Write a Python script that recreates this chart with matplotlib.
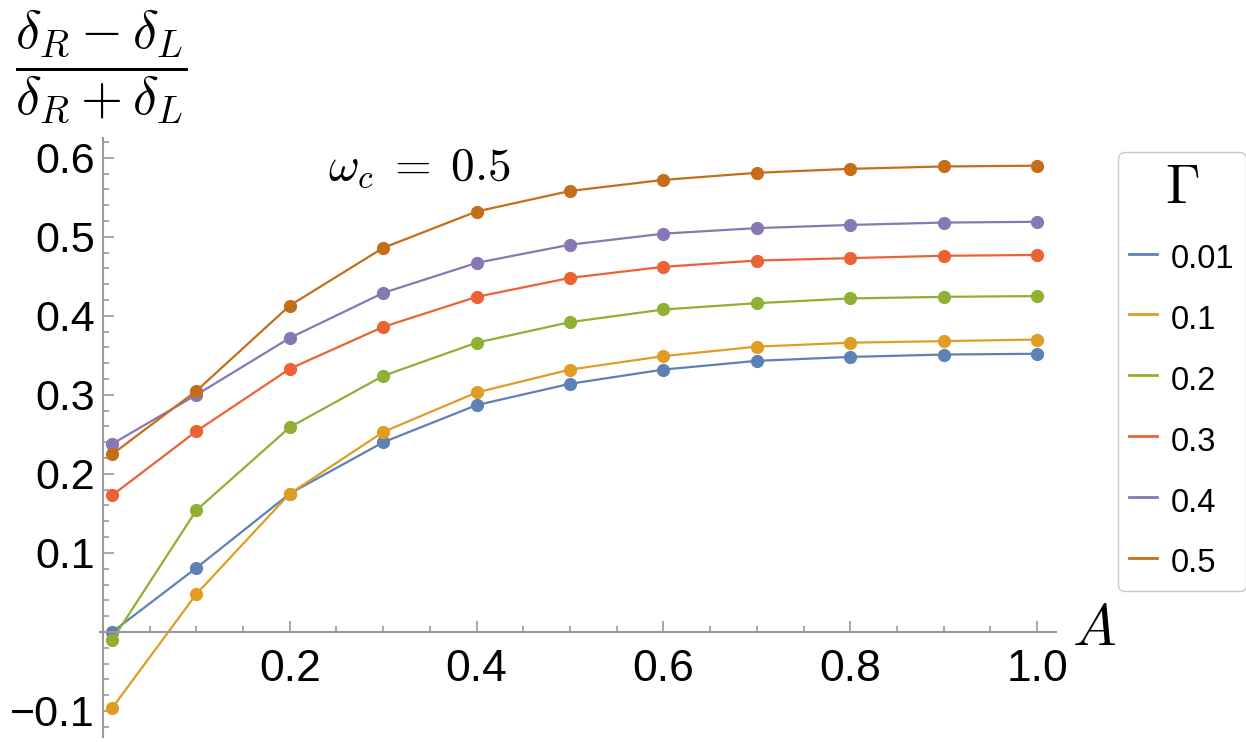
import matplotlib as mpl
import matplotlib.pyplot as plt
from matplotlib.lines import Line2D
from matplotlib.ticker import MultipleLocator, FixedLocator

mpl.rcParams['mathtext.fontset'] = 'cm'
mpl.rcParams['font.family'] = ['Liberation Sans', 'DejaVu Sans']

# data
A = [0.01, 0.1, 0.2, 0.3, 0.4, 0.5, 0.6, 0.7, 0.8, 0.9, 1.0]
gammas = ['0.01', '0.1', '0.2', '0.3', '0.4', '0.5']
g001 = [0.000, 0.081, 0.175, 0.240, 0.287, 0.314, 0.332, 0.343, 0.348, 0.351, 0.352]
g01 = [-0.096, 0.048, 0.175, 0.253, 0.303, 0.332, 0.349, 0.361, 0.366, 0.368, 0.370]
g02 = [-0.010, 0.154, 0.259, 0.324, 0.366, 0.392, 0.408, 0.416, 0.422, 0.424, 0.425]
g03 = [0.173, 0.254, 0.333, 0.386, 0.424, 0.448, 0.462, 0.470, 0.473, 0.476, 0.477]
g04 = [0.238, 0.300, 0.372, 0.429, 0.467, 0.490, 0.504, 0.511, 0.515, 0.518, 0.519]
g05 = [0.225, 0.305, 0.413, 0.486, 0.532, 0.558, 0.572, 0.581, 0.586, 0.589, 0.590]
series = [g001, g01, g02, g03, g04, g05]
colors = ['#5E81B5', '#E19C24', '#8FB032', '#EB6235', '#8778B3', '#C56E1A']

fig = plt.figure(figsize=(12.46, 7.42), dpi=100)
ax = fig.add_axes([0.0804, 0.0067, 0.7669, 0.8073])

for ys, c in zip(series, colors):
    ax.plot(A, ys, '-', color=c, lw=1.6, marker='o', ms=8.5, mec=c, mfc=c)

ax.set_xlim(-0.003, 1.02)
ax.set_ylim(-0.133, 0.625)

ax.spines['left'].set_position(('data', 0))
ax.spines['bottom'].set_position(('data', 0))
ax.spines['top'].set_visible(False)
ax.spines['right'].set_visible(False)
for s in ['left', 'bottom']:
    ax.spines[s].set_color('#999999')
    ax.spines[s].set_linewidth(1.5)

ax.xaxis.set_major_locator(FixedLocator([0.2, 0.4, 0.6, 0.8, 1.0]))
ax.xaxis.set_minor_locator(MultipleLocator(0.05))
ax.yaxis.set_major_locator(FixedLocator([-0.1, 0.1, 0.2, 0.3, 0.4, 0.5, 0.6]))
ax.yaxis.set_minor_locator(MultipleLocator(0.02))
ax.set_xticklabels(['0.2', '0.4', '0.6', '0.8', '1.0'])
ax.set_yticklabels(['\u22120.1', '0.1', '0.2', '0.3', '0.4', '0.5', '0.6'])
ax.tick_params(which='both', direction='in', color='#999999', width=1.2)
ax.tick_params(which='major', length=8)
ax.tick_params(which='minor', length=4)
ax.tick_params(axis='x', pad=12, labelsize=32)
ax.tick_params(axis='y', pad=6, labelsize=31)

ax.text(0.241, 0.572, r'$\omega_c\;=\;0.5$', fontsize=34, ha='left', va='baseline')
fig.text(1072 / 1246, 1 - 645 / 742, r'$A$', fontsize=42, ha='left', va='baseline')
fig.text(101 / 1246, 1 - 66 / 742, r'$\dfrac{\delta_R - \delta_L}{\delta_R + \delta_L}$',
         fontsize=39, ha='center', va='center')

handles = [Line2D([], [], color=c, lw=2) for c in colors]
leg = fig.legend(handles, gammas, loc='upper left',
                 bbox_to_anchor=(1118 / 1246, 1 - 152 / 742), borderaxespad=0,
                 fontsize=23.5, title=r'$\Gamma$', title_fontsize=40,
                 handlelength=0.86, handleheight=1.38, handletextpad=0.4,
                 labelspacing=0.72, borderpad=0.35, frameon=True, fancybox=True)
leg.get_frame().set_edgecolor('#bbbbbb')
leg.get_frame().set_linewidth(1.0)

fig.savefig('out.png', dpi=100)
